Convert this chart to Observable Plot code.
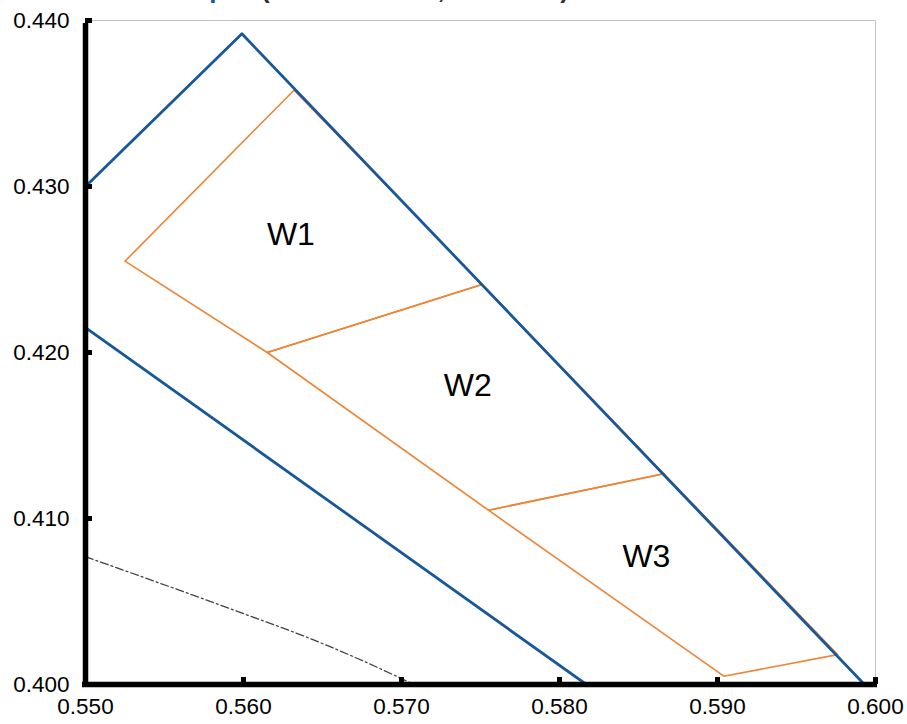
<!DOCTYPE html>
<html>
<head>
<meta charset="utf-8">
<script src="https://cdn.jsdelivr.net/npm/d3@7"></script>
<script src="https://cdn.jsdelivr.net/npm/@observablehq/plot@0.6"></script>
<style>
  html, body { margin: 0; padding: 0; background: #fff; overflow: hidden; }
  body { font-family: "Liberation Sans", Arial, sans-serif; }
  #wrap { position: relative; width: 907px; height: 724px; }
  #title { position: absolute; top: -26px; left: 124px; font-size: 26px; line-height: 30px;
           font-weight: bold; white-space: nowrap; z-index: 2; }
  #chart svg { display: block; }
</style>
</head>
<body>
<div id="wrap">
  <div id="title"><span style="color:#17589b">Bin Map</span><span style="margin-left:36px;color:#333">(ANSI C78.377, CIE 1931)</span></div>
  <div id="chart"></div>
</div>
<script>
// ---- data ----
const xTicks = [0.550, 0.560, 0.570, 0.580, 0.590, 0.600];
const yTicks = [0.400, 0.410, 0.420, 0.430, 0.440];

// outer (blue) boundary, upper edge
const upperX = [0.5500, 0.5599, 0.5993];
const upperY = [0.4300, 0.4392, 0.4000];
// outer (blue) boundary, lower edge
const lowerX = [0.5500, 0.5817];
const lowerY = [0.4215, 0.4000];

// bins (orange quadrilaterals)
const binNames = ["W1", "W2", "W3"];
const binX = [
  [0.5525, 0.5632, 0.5751, 0.5615],
  [0.5615, 0.5751, 0.5866, 0.5755],
  [0.5755, 0.5866, 0.5976, 0.5904]
];
const binY = [
  [0.4255, 0.4358, 0.4241, 0.4200],
  [0.4200, 0.4241, 0.4127, 0.4105],
  [0.4105, 0.4127, 0.4018, 0.4005]
];
const labelX = [0.5630, 0.5742, 0.5855];
const labelY = [0.4271, 0.4180, 0.4077];

// dash-dot reference curve
const locusX = [0.5500, 0.5602, 0.5644, 0.5699, 0.5710];
const locusY = [0.4077, 0.4042, 0.4027, 0.4004, 0.3999];

// ---- build tables ----
const blue = "#17589b";
const orange = "#ee8434";
const upper = upperX.map((x, i) => ({x, y: upperY[i]}));
const lower = lowerX.map((x, i) => ({x, y: lowerY[i]}));
const bins = binNames.flatMap((name, b) =>
  [0, 1, 2, 3, 0].map(i => ({bin: name, x: binX[b][i], y: binY[b][i]})));
const labels = binNames.map((name, i) => ({name, x: labelX[i], y: labelY[i]}));
const locus = locusX.map((x, i) => ({x, y: locusY[i]}));

const fmt = d3.format(".3f");

const chart = Plot.plot({
  width: 907,
  height: 724,
  marginLeft: 85,
  marginRight: 32,
  marginTop: 20,
  marginBottom: 40,
  style: {fontFamily: "'Liberation Sans', Arial, sans-serif", background: "#fff", color: "#000"},
  x: {domain: [0.55, 0.60], axis: null},
  y: {domain: [0.40, 0.44], axis: null},
  marks: [
    Plot.frame({stroke: "#c4c4c4", strokeWidth: 1}),
    Plot.line(locus, {x: "x", y: "y", stroke: "#444", strokeWidth: 1.3,
      strokeDasharray: "8,3,2,3", curve: "monotone-x", clip: true}),
    Plot.line(bins, {x: "x", y: "y", z: "bin", stroke: orange, strokeWidth: 1.6, clip: true}),
    Plot.line(upper, {x: "x", y: "y", stroke: blue, strokeWidth: 2.8, clip: true}),
    Plot.line(lower, {x: "x", y: "y", stroke: blue, strokeWidth: 2.8, clip: true}),
    Plot.text(labels, {x: "x", y: "y", text: "name", fontSize: 32, fill: "#000"}),
    Plot.ruleX([0.55], {y1: 0.40, y2: 0.44, stroke: "#000", strokeWidth: 5.5, insetTop: -2, insetBottom: -3}),
    Plot.ruleY([0.40], {x1: 0.55, x2: 0.60, stroke: "#000", strokeWidth: 5.5, insetLeft: -3, insetRight: -2}),
    Plot.axisY({ticks: yTicks, tickSize: -7, strokeWidth: 5, tickFormat: () => "", stroke: "#000", label: null}),
    Plot.axisX({ticks: xTicks, tickSize: -7, strokeWidth: 5, tickFormat: () => "", stroke: "#000", label: null}),
    Plot.axisY({ticks: yTicks, tickSize: 0, tickPadding: 16, tickFormat: fmt, fontSize: 22.5, fill: "#000", label: null}),
    Plot.axisX({ticks: xTicks, tickSize: 0, tickPadding: 14, tickFormat: fmt, fontSize: 22.5, fill: "#000", label: null})
  ]
});
document.getElementById("chart").appendChild(chart);
</script>
</body>
</html>
